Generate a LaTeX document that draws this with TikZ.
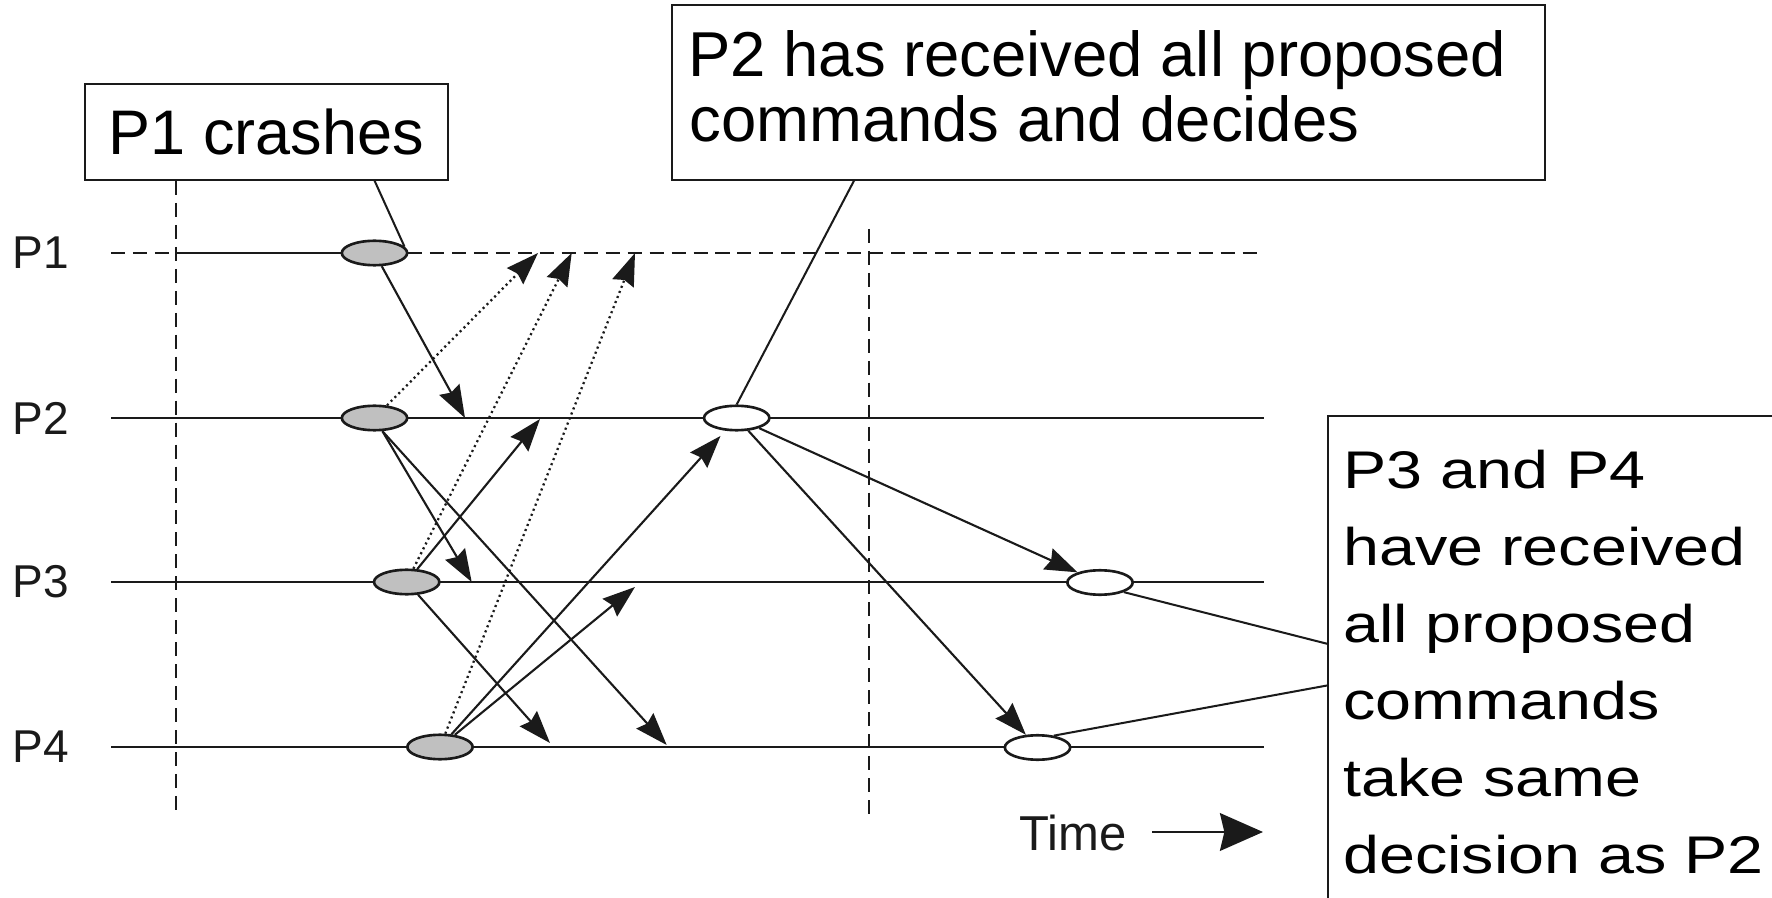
\documentclass[tikz,border=0pt]{standalone}
\usepackage{fontspec}
\setmainfont{Liberation Sans}
\newfontfamily\wideface[FakeStretch=1.22]{Liberation Sans}
\usetikzlibrary{arrows.meta,shapes.geometric}
\definecolor{ink}{HTML}{1A1A1A}
\definecolor{evfill}{HTML}{C0C0C0}
\begin{document}
\begin{tikzpicture}[x=0.02cm,y=-0.02cm,
  timeline/.style={draw=ink,line width=1.3pt},
  dashline/.style={draw=ink,line width=1.3pt,dash pattern=on 8pt off 4.5pt},
  event/.style={ellipse,draw=ink,line width=1.5pt,fill=evfill,minimum width=37.2pt,minimum height=13.9pt,inner sep=0pt},
  decided/.style={event,fill=white},
  msg/.style={draw=ink,line width=1.2pt,-{Stealth[length=18.5pt,width=13pt,inset=2pt]}},
  ghost/.style={msg,line width=1.3pt,dash pattern=on 1.2pt off 1.9pt},
  callout/.style={draw=ink,line width=1.15pt},
  note/.style={draw=ink,line width=1.6pt,inner sep=0pt,outer sep=0pt},
  plabel/.style={font=\fontsize{26.2pt}{30pt}\selectfont,inner sep=0pt,anchor=west,text=ink},
  notetext/.style={font=\fontsize{36.1pt}{40pt}\selectfont,inner sep=0pt,anchor=base west,text=black},
  widetext/.style={font=\wideface\fontsize{30.16pt}{43.8pt}\selectfont,inner sep=0pt,anchor=base west,text=black},
  timetext/.style={font=\fontsize{27.9pt}{32pt}\selectfont,inner sep=0pt,anchor=base west,text=ink}
]
\useasboundingbox (0,0) rectangle (1772,898);
\clip (0,0) rectangle (1772,898);

% coordinates for line ends
\foreach \y/\n in {253/1,418/2,582/3,747/4}{
  \coordinate (s\n) at (111,\y);
  \coordinate (e\n) at (1264,\y);
}
\coordinate (v1m) at (176,253);
\coordinate (g1c) at (374.5,253);
\coordinate (g1e) at (408,253);
\coordinate (v1a) at (176,181);
\coordinate (v1b) at (176,811);
\coordinate (v2a) at (869,229);
\coordinate (v2b) at (869,814);

% process labels
\node[plabel] (p1) at (12,253) {P1};
\node[plabel] (p2) at (12,418) {P2};
\node[plabel] (p3) at (12,582) {P3};
\node[plabel] (p4) at (12,747) {P4};

% time lines
\draw[dashline] (s1) -- (v1m);
\draw[timeline] (v1m) -- (g1c);
\draw[dashline] (g1e) -- (e1);
\draw[timeline] (s2) -- (e2);
\draw[timeline] (s3) -- (e3);
\draw[timeline] (s4) -- (e4);

% vertical dashed lines
\draw[dashline] (v1a) -- (v1b);
\draw[dashline] (v2a) -- (v2b);

% events
\node[event] (g1) at (374.5,253) {};
\node[event] (g2) at (374.5,418) {};
\node[event] (g3) at (406.7,582) {};
\node[event] (g4) at (440,747) {};
\node[decided] (w2) at (736.7,418) {};
\node[decided] (w3) at (1100,582.5) {};
\node[decided] (w4) at (1037.5,747.5) {};

% message end points
\coordinate (m1) at (465,418);
\coordinate (m2) at (471.7,582);
\coordinate (m3) at (666.7,745);
\coordinate (m4) at (540,419);
\coordinate (m5) at (550,743);
\coordinate (m6) at (635,587);
\coordinate (d1) at (538,253);
\coordinate (d2) at (571.7,253);
\coordinate (d3) at (635,253);

% messages
\draw[msg] (g1) -- (m1);
\draw[ghost] (g2) -- (d1);
\draw[ghost] (g3) -- (d2);
\draw[ghost] (g4) -- (d3);
\draw[msg] (g2.-59) -- (m2);
\draw[msg] (g2.-59) -- (m3);
\draw[msg] (g3) -- (m4);
\draw[msg] (g3) -- (m5);
\draw[msg,shorten >=4pt] (g4) -- (w2);
\draw[msg] (g4) -- (m6);
\draw[msg] (w2) -- (w3);
\draw[msg] (w2) -- (w4);

% notes
\node[note,minimum width=206.6pt,minimum height=54.6pt,font=\fontsize{35.85pt}{40pt}\selectfont] (c1) at (266.5,132) {P1 crashes};
\node[note,minimum width=496.8pt,minimum height=99.6pt] (c2) at (1108.5,92.5) {};
\node[notetext] (c2a) at (688,77) {P2 has received all proposed};
\node[notetext] (c2b) at (689,142) {commands and decides};
\node[note,anchor=north west,minimum width=268.6pt,minimum height=292.5pt] (rbox) at (1328,416) {};
\foreach \txt [count=\i from 0] in {P3 and P4,have received,all proposed,commands,take same,decision as P2}{
  \node[widetext] (rl\i) at (1343,{488+77*\i}) {\txt};
}

% callout lines
\draw[callout] (c1.-24.9) -- (g1.12);
\draw[callout] (c2.-161.9) -- (w2.north);
\draw[callout] (w3.-22) -- (rbox.173.95);
\draw[callout] (w4.36) -- (rbox.-177.82);

% time arrow
\node[timetext] (time) at (1019,850) {Time};
\coordinate (tA) at (1152,832);
\coordinate (tB) at (1263,832);
\draw[draw=ink,line width=1.3pt,-{Stealth[length=24.5pt,width=21.5pt,inset=2.5pt]}] (tA) -- (tB);
\end{tikzpicture}
\end{document}
